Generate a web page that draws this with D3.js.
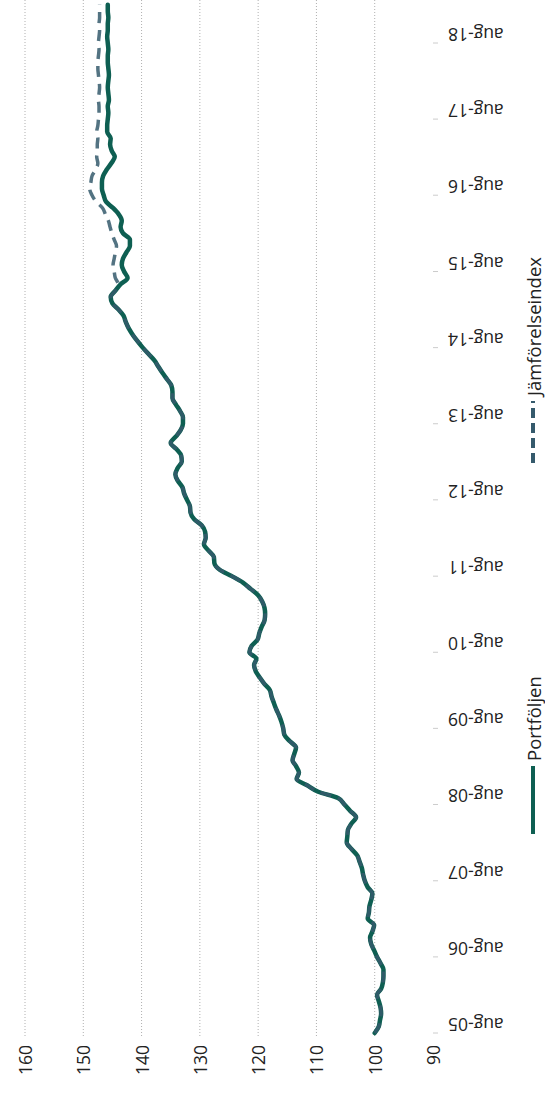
<!DOCTYPE html>
<html>
<head>
<meta charset="utf-8">
<script src="https://cdn.jsdelivr.net/npm/d3@7"></script>
<style>
  html, body { margin: 0; padding: 0; background: #fff; }
  svg { display: block; }
  text { font-family: "Open Sans", "DejaVu Sans", sans-serif; }
</style>
</head>
<body>
<svg id="chart" width="545" height="1093"></svg>
<script>
// ---- data ----
const startMonth = "2005-08";
const seriesNames = ["Portföljen", "Jämförelseindex"];
const valueTicks = [160, 150, 140, 130, 120, 110, 100, 90];
const dateTickLabels = ["aug-05","aug-06","aug-07","aug-08","aug-09","aug-10","aug-11","aug-12","aug-13","aug-14","aug-15","aug-16","aug-17","aug-18"];

const portfolio = [
100.0,99.3,99.1,98.9,99.0,99.3,99.6,98.9,98.6,98.5,98.5,99.0,
99.6,100.1,100.6,100.8,100.4,100.1,101.2,101.0,100.9,100.6,100.4,101.2,
101.7,102.0,102.2,102.6,103.0,104.0,104.8,104.7,104.6,104.0,103.2,104.2,
105.2,106.3,109.7,111.6,113.4,113.0,113.5,114.1,113.8,113.5,114.6,115.5,
115.7,116.0,116.4,116.9,117.3,117.7,118.0,118.9,119.7,120.4,120.7,120.3,
121.5,121.1,120.1,119.8,119.4,118.9,118.8,118.9,119.3,120.0,121.3,122.6,
124.5,126.6,127.5,127.6,128.5,129.3,129.0,129.1,129.7,131.0,131.6,131.7,
132.2,132.7,133.0,133.8,134.2,133.8,133.1,133.2,134.0,135.0,134.1,133.3,
132.9,132.9,133.4,134.1,134.7,134.7,134.9,135.6,136.4,137.1,137.8,138.8,
139.8,140.7,141.5,142.2,142.7,143.1,144.0,145.0,145.3,144.5,143.6,142.4,
143.0,143.4,143.2,142.6,142.0,142.0,143.2,143.6,143.4,143.9,144.9,146.1,
146.5,146.8,146.8,146.6,146.0,145.2,144.6,145.1,145.4,145.3,145.9,145.9,
145.8,145.7,145.8,145.6,145.7,145.8,145.7,145.6,145.7,145.8,145.8,145.7,
145.8,145.9,145.8,145.8,145.7,145.8,145.8
];

const benchmark = [
100.0,99.3,99.1,98.9,99.0,99.3,99.6,98.9,98.6,98.5,98.5,99.0,
99.6,100.1,100.6,100.8,100.4,100.1,101.2,101.0,100.9,100.6,100.4,101.2,
101.7,102.0,102.2,102.6,103.0,104.0,104.8,104.7,104.6,104.0,103.2,104.2,
105.2,106.3,109.7,111.6,113.4,113.0,113.5,114.1,113.8,113.5,114.6,115.5,
115.7,116.0,116.4,116.9,117.3,117.7,118.0,118.9,119.7,120.4,120.7,120.3,
121.5,121.1,120.1,119.8,119.4,118.9,118.8,118.9,119.3,120.0,121.3,122.6,
124.5,126.6,127.5,127.6,128.5,129.3,129.0,129.1,129.7,131.0,131.6,131.7,
132.2,132.7,133.0,133.8,134.2,133.8,133.1,133.2,134.0,135.0,134.1,133.3,
132.9,132.9,133.4,134.1,134.7,134.7,134.9,135.6,136.4,137.1,137.8,138.8,
139.8,140.7,141.5,142.2,142.7,143.1,144.0,145.0,145.3,144.5,144.0,144.5,
144.7,144.9,144.7,144.5,144.3,144.7,145.1,145.4,145.7,146.2,146.7,147.8,
148.5,148.9,148.7,148.5,147.9,147.5,147.7,147.6,147.6,147.5,147.7,147.5,
147.4,147.3,147.3,147.4,147.3,147.2,147.3,147.4,147.5,147.5,147.4,147.3,
147.4,147.3,147.2,147.3,147.2,147.2,147.2
];

// ---- setup ----
const svg = d3.select("#chart");
const parseMonth = d3.timeParse("%Y-%m");
const t0 = parseMonth(startMonth);
const dates = portfolio.map((_, i) => d3.timeMonth.offset(t0, i));
const tickDates = dateTickLabels.map((_, i) => d3.timeYear.offset(t0, i));

// rotated chart: values run horizontally (high on the left), time runs upward
const xV = d3.scaleLinear().domain([90, 160]).range([433, 25]);
const yT = d3.scaleTime().domain([tickDates[0], tickDates[tickDates.length - 1]]).range([1033, 43]);

// gridlines
svg.append("g").selectAll("line")
  .data(valueTicks.filter(v => v !== 90))
  .join("line")
  .attr("x1", d => xV(d)).attr("x2", d => xV(d))
  .attr("y1", 0).attr("y2", 1037)
  .attr("stroke", "#b0b0b0").attr("stroke-width", 1)
  .attr("stroke-dasharray", "1,2");

// value labels (rotated)
svg.append("g").selectAll("text")
  .data(valueTicks)
  .join("text")
  .attr("transform", d => `translate(${xV(d)},1045) rotate(-90)`)
  .attr("text-anchor", "end")
  .attr("dominant-baseline", "central")
  .attr("font-size", 17.5)
  .attr("fill", "#222")
  .text(d => d);

// date ticks
svg.append("g").selectAll("line")
  .data(tickDates)
  .join("line")
  .attr("x1", 433).attr("x2", 438)
  .attr("y1", d => yT(d)).attr("y2", d => yT(d))
  .attr("stroke", "#cccccc").attr("stroke-width", 1);

// date labels (upside down)
svg.append("g").selectAll("text")
  .data(tickDates)
  .join("text")
  .attr("transform", (d) => `translate(448,${yT(d) - 8}) rotate(180)`)
  .attr("text-anchor", "end")
  .attr("dominant-baseline", "central")
  .attr("font-size", 17.5)
  .attr("fill", "#222")
  .text((d, i) => dateTickLabels[i]);

// lines
const line = d3.line()
  .x(d => xV(d.v))
  .y(d => yT(d.t))
  .curve(d3.curveMonotoneY);

const pData = portfolio.map((v, i) => ({ t: dates[i], v }));
const bData = benchmark.map((v, i) => ({ t: dates[i], v }));

svg.append("path")
  .datum(pData)
  .attr("d", line)
  .attr("fill", "none")
  .attr("stroke", "#0e5f52")
  .attr("stroke-width", 4.5)
  .attr("stroke-linejoin", "round")
  .attr("stroke-linecap", "round");

svg.append("path")
  .datum(bData)
  .attr("d", line)
  .attr("fill", "none")
  .attr("stroke", "#355a6c")
  .attr("stroke-width", 3.5)
  .attr("stroke-dasharray", "11,7")
  .attr("stroke-opacity", 0.85);

// legend
const lg = svg.append("g");
lg.append("line")
  .attr("x1", 533).attr("x2", 533).attr("y1", 834).attr("y2", 766)
  .attr("stroke", "#0e5f52").attr("stroke-width", 4);
lg.append("text")
  .attr("transform", "translate(533,761) rotate(-90)")
  .attr("dominant-baseline", "central")
  .attr("font-size", 18.5).attr("fill", "#222")
  .text(seriesNames[0]);
lg.append("line")
  .attr("x1", 533).attr("x2", 533).attr("y1", 463).attr("y2", 401)
  .attr("stroke", "#355a6c").attr("stroke-width", 4)
  .attr("stroke-dasharray", "10,5");
lg.append("text")
  .attr("transform", "translate(533,396) rotate(-90)")
  .attr("dominant-baseline", "central")
  .attr("font-size", 18.5).attr("fill", "#222")
  .text(seriesNames[1]);
</script>
</body>
</html>
